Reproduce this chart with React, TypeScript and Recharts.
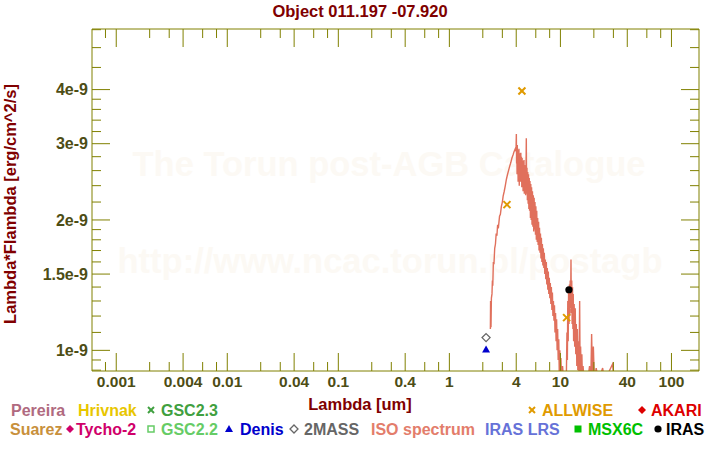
import React from "react";
import { ComposedChart, Line, Scatter, XAxis, YAxis } from "recharts";

// ISO SWS spectrum, wavelength [um] and lambda*F_lambda [1e-9 erg/cm^2/s]
const ISO_WAVE = [
  2.34, 2.35, 2.37, 2.39, 2.42, 2.44, 2.46, 2.49, 2.52, 2.56, 2.6, 2.64, 2.68, 2.72, 2.77, 2.83, 2.88, 2.94, 3.0, 3.05,
  3.12, 3.19, 3.26, 3.33, 3.41, 3.49, 3.57, 3.66, 3.75, 3.83, 3.92, 3.98,
  4.01, 4.03, 4.05, 4.07, 4.09, 4.11, 4.13, 4.16, 4.18, 4.21, 4.23, 4.26, 4.28, 4.31, 4.34, 4.37, 4.4, 4.43, 4.46, 4.49,
  4.52, 4.55, 4.58, 4.61, 4.64, 4.67, 4.7, 4.73, 4.76, 4.8, 4.83, 4.86, 4.9, 4.93, 4.96, 5.0, 5.04, 5.08, 5.12, 5.16,
  5.2, 5.24, 5.28, 5.32, 5.37, 5.41, 5.46, 5.5, 5.55, 5.6, 5.65, 5.7, 5.75, 5.8, 5.85, 5.9, 5.96, 6.01, 6.07, 6.12,
  6.18, 6.24, 6.3, 6.36, 6.42, 6.48, 6.55, 6.61, 6.68, 6.74, 6.81, 6.88, 6.95, 7.02, 7.09, 7.16, 7.23, 7.31, 7.38, 7.46,
  7.54, 7.62, 7.7, 7.78, 7.86, 7.94, 8.03, 8.11, 8.2, 8.29, 8.38, 8.47, 8.56, 8.65, 8.75, 8.84, 8.94, 9.04, 9.14, 9.24,
  9.34, 9.44, 9.55, 9.66, 9.77, 9.88, 10.0, 10.1, 10.25, 10.45, 10.7, 11.0, 11.3,
  11.45, 11.55, 11.65, 11.75, 11.85, 11.95, 12.05, 12.15, 12.25, 12.35, 12.45, 12.55, 12.65, 12.75, 12.85, 12.95, 13.05,
  13.15, 13.3, 13.45, 13.6, 13.75, 13.9, 14.05, 14.2, 14.35, 14.5, 14.7, 14.9, 15.05, 15.2, 15.4, 15.6, 15.8, 16.0, 16.3,
  17.0, 17.6, 18.3, 18.8, 19.1, 19.4, 19.8, 20.2, 21.0, 22.0, 24.0, 25.0, 29.5, 30.5, 40, 45,
];
const ISO_FLUX = [
  1.12, 1.3, 1.13, 1.32, 1.35, 1.45, 1.41, 1.6, 1.58, 1.72, 1.76, 1.86, 1.84, 1.95, 1.93, 2.04, 2.06, 2.15, 2.2, 2.27,
  2.33, 2.4, 2.48, 2.54, 2.6, 2.66, 2.71, 2.78, 2.83, 2.88, 2.92, 2.88,
  3.16, 2.7, 2.95, 2.55, 2.98, 2.62, 2.9, 2.45, 2.88, 2.5, 2.92, 2.4, 2.85, 2.55, 2.82, 2.45, 2.86, 2.5, 2.8, 2.38,
  2.78, 2.45, 2.74, 2.33, 2.72, 2.4, 2.75, 2.3, 2.68, 2.35, 2.66, 2.28, 2.62, 3.09, 2.3, 2.64, 2.22, 2.58, 2.18, 2.55,
  2.12, 2.5, 2.1, 2.46, 2.02, 2.42, 2.0, 2.38, 1.95, 2.33, 1.93, 2.28, 1.88, 2.25, 1.9, 2.2, 1.85, 2.15, 1.8, 2.1,
  1.78, 2.02, 1.75, 1.98, 1.7, 1.92, 1.68, 1.86, 1.63, 1.82, 1.6, 1.76, 1.57, 1.72, 1.55, 1.68, 1.5, 1.62, 1.46, 1.6,
  1.42, 1.55, 1.38, 1.52, 1.35, 1.47, 1.32, 1.43, 1.28, 1.4, 1.24, 1.36, 1.2, 1.3, 1.17, 1.27, 1.1, 1.22, 1.05, 1.18,
  1.0, 1.12, 0.95, 1.06, 0.88, 1.0, 0.85, 0.96, 0.85, 0.92, 0.85, 0.88, 0.85,
  1.1, 0.95, 1.3, 1.05, 1.38, 1.15, 1.42, 1.2, 1.45, 1.25, 1.62, 1.22, 1.45, 1.15, 1.4, 1.12, 1.35,
  1.05, 1.28, 1.02, 1.25, 0.98, 1.15, 0.92, 1.12, 0.9, 1.05, 0.88, 1.3, 0.87, 1.02, 0.86, 0.98, 0.85, 0.92, 0.85,
  0.88, 0.85, 0.92, 0.86, 1.09, 0.88, 1.02, 0.85, 0.91, 0.85, 0.91, 0.85, 0.93, 0.85, 0.8, 0.78,
];

const ALLWISE_WAVE = [3.3, 4.5, 11.37];
const ALLWISE_FLUX = [2.17, 3.97, 1.19];
const IRAS_WAVE = [11.93];
const IRAS_FLUX = [1.38];
const TWOMASS_WAVE = [2.14];
const TWOMASS_FLUX = [1.07];
const DENIS_WAVE = [2.14];
const DENIS_FLUX = [1.004];

const X_TICKS = [
  0.0008, 0.001, 0.002, 0.003, 0.004, 0.006, 0.008, 0.01, 0.02, 0.03, 0.04, 0.06, 0.08, 0.1, 0.2, 0.3, 0.4, 0.6, 0.8,
  1, 2, 3, 4, 6, 8, 10, 20, 30, 40, 60, 80, 100,
];
const X_LABELS = [0.001, 0.004, 0.01, 0.04, 0.1, 0.4, 1, 4, 10, 40, 100];
const Y_TICKS = [0.9, 0.95, 1, 1.1, 1.2, 1.3, 1.4, 1.5, 1.6, 1.7, 1.8, 1.9, 2, 2.2, 2.4, 2.6, 2.8, 3, 3.2, 3.4, 3.6, 3.8, 4, 4.5, 5, 5.5];
const Y_LABELS = [1, 1.5, 2, 3, 4];

const FONT = "'Liberation Sans', Arial, Helvetica, sans-serif";
const AXIS = "#808000";
const TICK_TEXT = "#4d4d15";
const MAROON = "#800000";
const ISO_COLOR = "#e0705c";
const ALLWISE_COLOR = "#e09a00";

const toPts = (xs: number[], ys: number[]) => xs.map((x, i) => ({ x, y: ys[i] }));

function BottomTick(p: any) {
  const v = p.payload.value;
  const major = X_LABELS.includes(v);
  return (
    <g>
      <line x1={p.x} x2={p.x} y1={p.y} y2={p.y - (major ? 18 : 9)} stroke={AXIS} />
      {major && (
        <text x={p.x} y={p.y + 16} textAnchor="middle" fill={TICK_TEXT} fontSize={15.5} fontWeight="bold" fontFamily={FONT}>
          {String(v)}
        </text>
      )}
    </g>
  );
}

function TopTick(p: any) {
  const major = X_LABELS.includes(p.payload.value);
  return <line x1={p.x} x2={p.x} y1={p.y} y2={p.y + (major ? 18 : 9)} stroke={AXIS} />;
}

function LeftTick(p: any) {
  const v = p.payload.value;
  const major = Y_LABELS.includes(v);
  return (
    <g>
      <line x1={p.x} x2={p.x + (major ? 18 : 9)} y1={p.y} y2={p.y} stroke={AXIS} />
      {major && (
        <text x={p.x - 4} y={p.y} dy="0.36em" textAnchor="end" fill={TICK_TEXT} fontSize={16} fontWeight="bold" fontFamily={FONT}>
          {v + "e-9"}
        </text>
      )}
    </g>
  );
}

function RightTick(p: any) {
  const major = Y_LABELS.includes(p.payload.value);
  return <line x1={p.x} x2={p.x - (major ? 18 : 9)} y1={p.y} y2={p.y} stroke={AXIS} />;
}

const Cross = (p: any) => (
  <g stroke={ALLWISE_COLOR} strokeWidth={2}>
    <line x1={p.cx - 3.5} y1={p.cy - 3.5} x2={p.cx + 3.5} y2={p.cy + 3.5} />
    <line x1={p.cx - 3.5} y1={p.cy + 3.5} x2={p.cx + 3.5} y2={p.cy - 3.5} />
  </g>
);
const OpenDiamond = (p: any) => (
  <polygon
    points={`${p.cx},${p.cy - 4} ${p.cx + 4},${p.cy} ${p.cx},${p.cy + 4} ${p.cx - 4},${p.cy}`}
    fill="#fff"
    stroke="#666"
    strokeWidth={1.3}
  />
);
const Triangle = (p: any) => (
  <polygon points={`${p.cx},${p.cy - 4} ${p.cx + 4},${p.cy + 3} ${p.cx - 4},${p.cy + 3}`} fill="#0000cc" />
);
const Dot = (p: any) => <circle cx={p.cx} cy={p.cy} r={3.6} fill="#000" />;

type LegendItem = { label: string; color: string; marker?: string; mx?: number; tx: number; row: number };
const LEGEND: LegendItem[] = [
  { label: "Pereira", color: "#b06a80", tx: 11, row: 0 },
  { label: "Hrivnak", color: "#e8c600", tx: 78, row: 0 },
  { label: "GSC2.3", color: "#40a040", marker: "x", mx: 151, tx: 161, row: 0 },
  { label: "ALLWISE", color: ALLWISE_COLOR, marker: "x", mx: 532, tx: 542, row: 0 },
  { label: "AKARI", color: "#dd0000", marker: "diamond", mx: 642, tx: 651, row: 0 },
  { label: "Suarez", color: "#c8903c", tx: 10, row: 1 },
  { label: "Tycho-2", color: "#d0006a", marker: "diamond", mx: 70, tx: 76, row: 1 },
  { label: "GSC2.2", color: "#66cc66", marker: "osquare", mx: 151, tx: 161, row: 1 },
  { label: "Denis", color: "#0000cc", marker: "triangle", mx: 229, tx: 240, row: 1 },
  { label: "2MASS", color: "#666666", marker: "odiamond", mx: 294, tx: 304, row: 1 },
  { label: "ISO spectrum", color: "#e37d6b", tx: 371, row: 1 },
  { label: "IRAS LRS", color: "#6672d8", tx: 485, row: 1 },
  { label: "MSX6C", color: "#00c000", marker: "square", mx: 578, tx: 588, row: 1 },
  { label: "IRAS", color: "#000000", marker: "circle", mx: 658, tx: 666, row: 1 },
];

function LegendMarker({ kind, x, y, color }: { kind: string; x: number; y: number; color: string }) {
  if (kind === "x")
    return (
      <g stroke={color} strokeWidth={2}>
        <line x1={x - 3} y1={y - 3} x2={x + 3} y2={y + 3} />
        <line x1={x - 3} y1={y + 3} x2={x + 3} y2={y - 3} />
      </g>
    );
  if (kind === "diamond") return <polygon points={`${x},${y - 4} ${x + 4},${y} ${x},${y + 4} ${x - 4},${y}`} fill={color} />;
  if (kind === "odiamond")
    return <polygon points={`${x},${y - 4} ${x + 4},${y} ${x},${y + 4} ${x - 4},${y}`} fill="#fff" stroke={color} strokeWidth={1.3} />;
  if (kind === "osquare") return <rect x={x - 3} y={y - 3} width={6} height={6} fill="#fff" stroke={color} strokeWidth={1.5} />;
  if (kind === "square") return <rect x={x - 3.5} y={y - 3.5} width={7} height={7} fill={color} />;
  if (kind === "triangle") return <polygon points={`${x},${y - 4} ${x + 4},${y + 3} ${x - 4},${y + 3}`} fill={color} />;
  return <circle cx={x} cy={y} r={3.6} fill={color} />;
}

export default function App() {
  const iso = toPts(ISO_WAVE, ISO_FLUX);
  const rowY = [416, 435];
  return (
    <div style={{ position: "absolute", left: 0, top: 0, width: 720, height: 450, background: "#fff" }}>
      <svg width={720} height={450} style={{ position: "absolute", left: 0, top: 0 }} fontFamily={FONT} fontWeight="bold">
        <text x={389} y={176} textAnchor="middle" fontSize={34.5} fill="#fcf9f4">
          The Torun post-AGB Catalogue
        </text>
        <text x={390} y={273} textAnchor="middle" fontSize={34.5} fill="#fcf9f4">
          http://www.ncac.torun.pl/postagb
        </text>
        <text x={360} y={17} textAnchor="middle" fontSize={16.5} fill={MAROON}>
          Object 011.197 -07.920
        </text>
        <text x={360} y={410} textAnchor="middle" fontSize={16.5} fill={MAROON}>
          Lambda [um]
        </text>
        <text transform="translate(16,204) rotate(-90)" textAnchor="middle" fontSize={16.5} fill={MAROON}>
          Lambda*Flambda [erg/cm^2/s]
        </text>
        {LEGEND.map((it) => (
          <g key={it.label}>
            {it.marker && <LegendMarker kind={it.marker} x={it.mx!} y={rowY[it.row] - 6} color={it.color} />}
            <text x={it.tx} y={rowY[it.row]} fontSize={16} fill={it.color}>
              {it.label}
            </text>
          </g>
        ))}
      </svg>
      <div style={{ position: "absolute", left: 0, top: 0 }}>
        <ComposedChart width={720} height={450} margin={{ top: 28, right: 0, bottom: 0, left: 0 }}>
          <XAxis
            xAxisId="bottom"
            dataKey="x"
            type="number"
            scale="log"
            domain={[6.05e-4, 177]}
            allowDataOverflow
            ticks={X_TICKS}
            interval={0}
            height={79}
            tickSize={0}
            tickMargin={0}
            tickLine={false}
            axisLine={{ stroke: AXIS }}
            tick={<BottomTick />}
          />
          <XAxis
            xAxisId="top"
            orientation="top"
            dataKey="x"
            type="number"
            scale="log"
            domain={[6.05e-4, 177]}
            allowDataOverflow
            ticks={X_TICKS}
            interval={0}
            height={1}
            tickSize={0}
            tickMargin={0}
            tickLine={false}
            axisLine={{ stroke: AXIS }}
            tick={<TopTick />}
          />
          <YAxis
            yAxisId="left"
            dataKey="y"
            type="number"
            scale="log"
            domain={[0.896, 5.52]}
            allowDataOverflow
            ticks={Y_TICKS}
            interval={0}
            width={92}
            tickSize={0}
            tickMargin={0}
            tickLine={false}
            axisLine={{ stroke: AXIS }}
            tick={<LeftTick />}
          />
          <YAxis
            yAxisId="right"
            orientation="right"
            dataKey="y"
            type="number"
            scale="log"
            domain={[0.896, 5.52]}
            allowDataOverflow
            ticks={Y_TICKS}
            interval={0}
            width={21}
            tickSize={0}
            tickMargin={0}
            tickLine={false}
            axisLine={{ stroke: AXIS }}
            tick={<RightTick />}
          />
          <Line
            data={iso}
            xAxisId="bottom"
            yAxisId="left"
            dataKey="y"
            stroke={ISO_COLOR}
            strokeWidth={1.4}
            dot={false}
            type="linear"
            isAnimationActive={false}
          />
          <Scatter data={toPts(TWOMASS_WAVE, TWOMASS_FLUX)} xAxisId="bottom" yAxisId="left" dataKey="y" shape={OpenDiamond} isAnimationActive={false} />
          <Scatter data={toPts(DENIS_WAVE, DENIS_FLUX)} xAxisId="bottom" yAxisId="left" dataKey="y" shape={Triangle} isAnimationActive={false} />
          <Scatter data={toPts(ALLWISE_WAVE, ALLWISE_FLUX)} xAxisId="bottom" yAxisId="left" dataKey="y" shape={Cross} isAnimationActive={false} />
          <Scatter data={toPts(IRAS_WAVE, IRAS_FLUX)} xAxisId="bottom" yAxisId="left" dataKey="y" shape={Dot} isAnimationActive={false} />
        </ComposedChart>
      </div>
    </div>
  );
}
